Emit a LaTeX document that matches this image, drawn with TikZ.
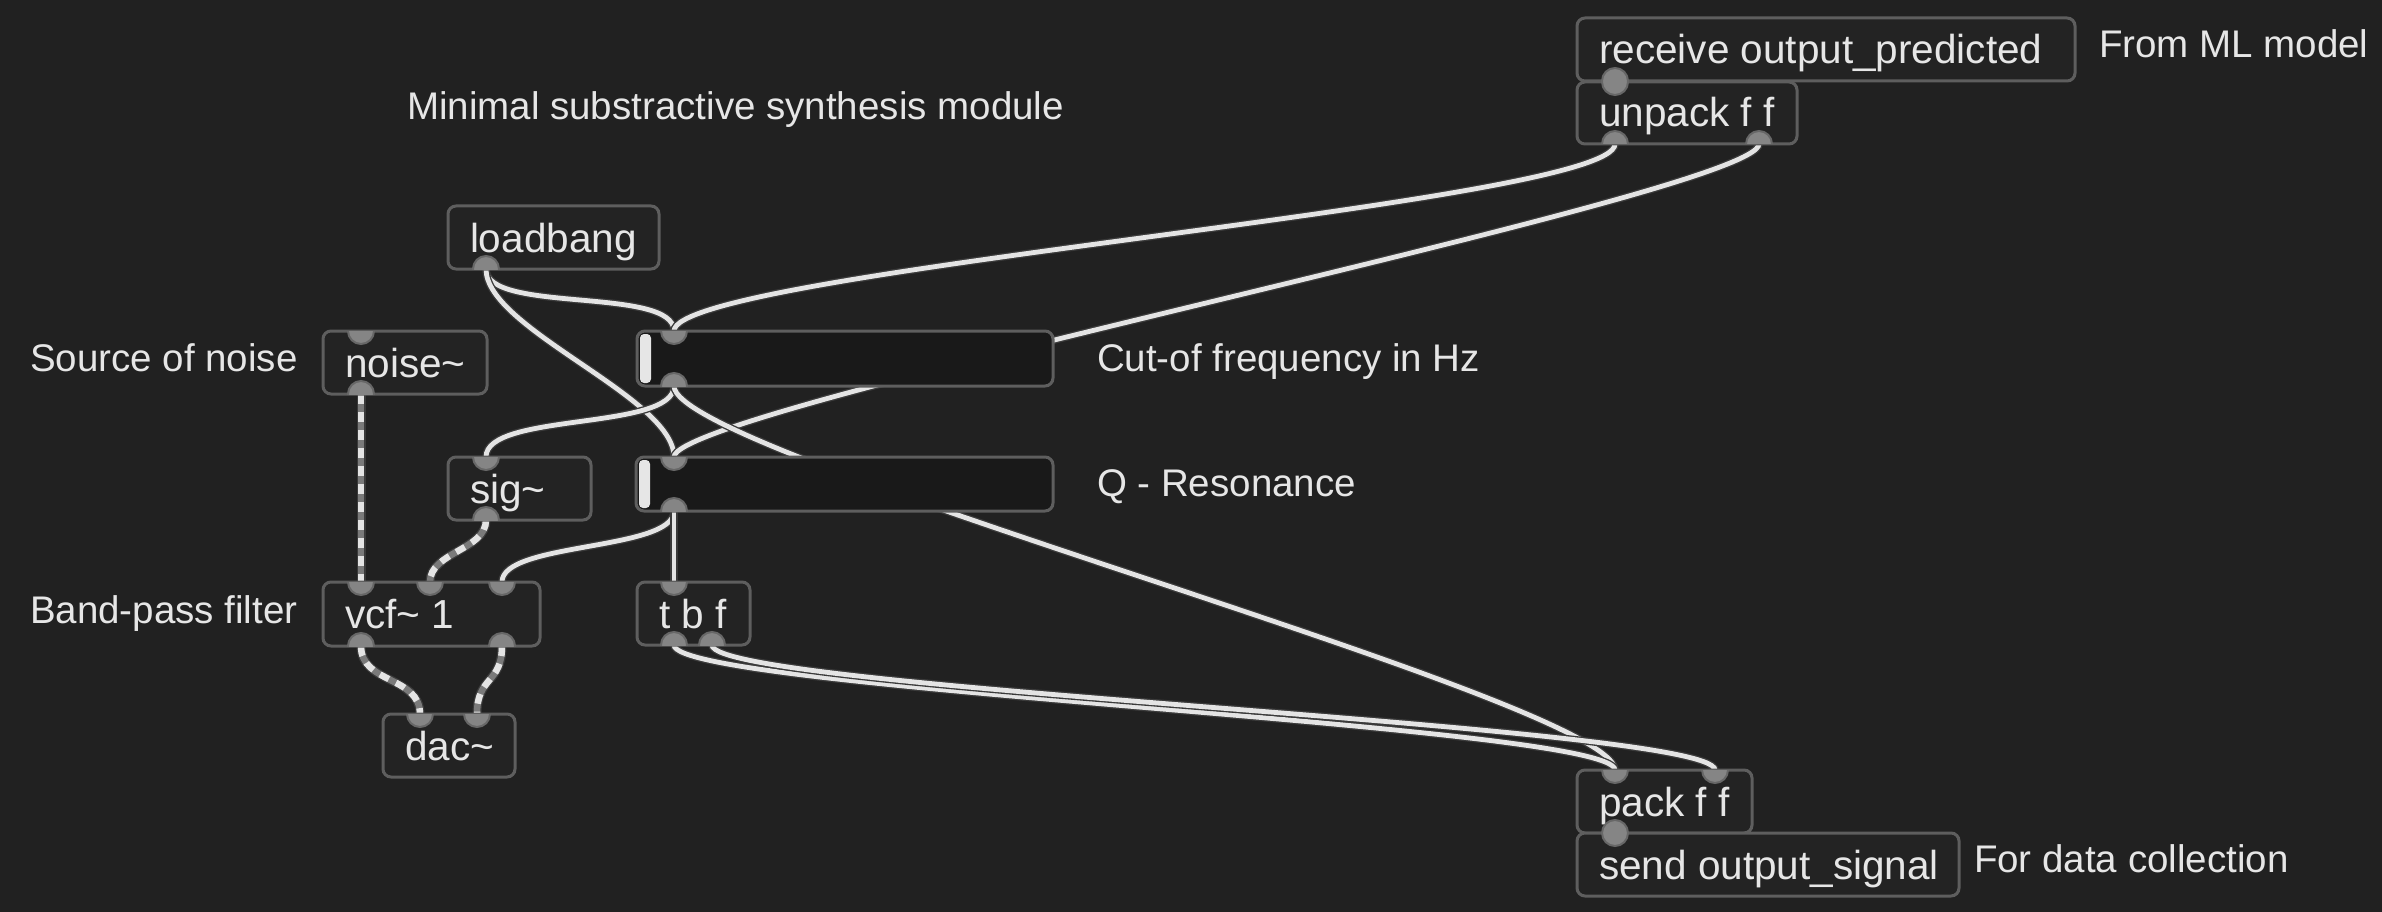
\documentclass[tikz,border=0pt]{standalone}
\usepackage{fontspec}
\setmainfont{Liberation Sans}
\usetikzlibrary{calc}
\definecolor{bg}{HTML}{212121}
\definecolor{boxfill}{HTML}{232323}
\definecolor{boxline}{HTML}{5E5E5E}
\definecolor{txt}{HTML}{E6E6E6}
\definecolor{sliderfill}{HTML}{191919}
\definecolor{portc}{HTML}{858585}
\definecolor{portline}{HTML}{676767}
\definecolor{wire}{HTML}{E4E4E4}
\definecolor{wireedge}{HTML}{3A3A3A}
\definecolor{sigdark}{HTML}{7A7A7A}
\newcommand{\pdfnt}{\fontsize{40.5}{44}\selectfont}
\newcommand{\cmfnt}{\fontsize{38.5}{44}\selectfont}
\begin{document}
\begin{tikzpicture}[x=1pt,y=-1pt,
  obj/.style={draw=boxline, fill=boxfill, line width=3pt, rounded corners=8pt, anchor=north west, inner sep=0pt, outer sep=0pt, minimum height=63pt},
  slider/.style={draw=boxline, fill=sliderfill, line width=3pt, rounded corners=8pt, anchor=north west, inner sep=0pt, outer sep=0pt},
  handle/.style={fill=txt, rounded corners=4pt, anchor=north west, inner sep=0pt, outer sep=0pt, minimum width=11pt},
  lbl/.style={anchor=base west, inner sep=0pt, outer sep=0pt, text=txt, font=\pdfnt},
  cmt/.style={anchor=base west, inner sep=0pt, outer sep=0pt, text=txt, font=\cmfnt},
  ctlwire/.style={draw=wireedge, line width=7.5pt, postaction={draw=wire, line width=4.8pt}},
  sigwire/.style={draw=wireedge, line width=9pt, postaction={draw=sigdark, line width=6.5pt}, postaction={draw=wire, line width=6.5pt, dash pattern=on 10pt off 8pt}},
  portst/.style={fill=portc, draw=portline, line width=2pt}
]
\useasboundingbox (0,0) rectangle (2382,912);
\fill[bg] (0,0) rectangle (2382,912);

% object positions
\path
  (448,206) coordinate (lbp) (323,331) coordinate (nzp) (448,457) coordinate (sgp)
  (323,582) coordinate (vcp) (383,714) coordinate (dap) (637,582) coordinate (tbp)
  (1577,18) coordinate (rcp) (1577,82) coordinate (upp) (1577,770) coordinate (pkp)
  (1577,833) coordinate (sdp) (637,331) coordinate (s1p) (636,457) coordinate (s2p);

% ports
\coordinate (lb-o0) at (486,269);
\coordinate (nz-i0) at (361,331);
\coordinate (nz-o0) at (361,394);
\coordinate (sg-i0) at (486,457);
\coordinate (sg-o0) at (486,520);
\coordinate (vc-i0) at (361,582);
\coordinate (vc-i1) at (430,582);
\coordinate (vc-i2) at (502,582);
\coordinate (vc-o0) at (361,646);
\coordinate (vc-o1) at (502,646);
\coordinate (da-i0) at (420,714);
\coordinate (da-i1) at (477,714);
\coordinate (tb-i0) at (674,582);
\coordinate (tb-o0) at (674,645);
\coordinate (tb-o1) at (712,645);
\coordinate (s1-i0) at (674,331);
\coordinate (s1-o0) at (674,386);
\coordinate (s2-i0) at (674,457);
\coordinate (s2-o0) at (674,511);
\coordinate (rc-o0) at (1615,81);
\coordinate (up-i0) at (1615,82);
\coordinate (up-o0) at (1615,144);
\coordinate (up-o1) at (1759,144);
\coordinate (pk-i0) at (1615,770);
\coordinate (pk-i1) at (1715,770);
\coordinate (pk-o0) at (1615,833);
\coordinate (sd-i0) at (1615,833);

% ---------- cables ----------
\path[sigwire] (nz-o0) -- (vc-i0);
\path[sigwire] (sg-o0) .. controls +(0,30) and +(0,-30) .. (vc-i1);
\path[sigwire] (vc-o0) .. controls +(0,38) and +(0,-38) .. (da-i0);
\path[sigwire] (vc-o1) .. controls +(0,38) and +(0,-38) .. (da-i1);

\path[ctlwire] (lb-o0) .. controls +(0,45) and +(0,-45) .. (s1-i0);
\path[ctlwire] (lb-o0) .. controls +(0,60) and +(0,-60) .. (s2-i0);
\path[ctlwire] (up-o0) .. controls +(0,60) and +(0,-60) .. (s1-i0);
\path[ctlwire] (up-o1) .. controls +(0,50) and +(0,-50) .. (s2-i0);
\path[ctlwire] (s1-o0) .. controls +(0,45) and +(0,-45) .. (sg-i0);
\path[ctlwire] (s1-o0) .. controls +(0,70) and +(0,-70) .. (pk-i0);
\path[ctlwire] (s2-o0) .. controls +(0,40) and +(0,-40) .. (vc-i2);
\path[ctlwire] (s2-o0) -- (tb-i0);
\path[ctlwire] (tb-o0) .. controls +(0,45) and +(0,-45) .. (pk-i0);
\path[ctlwire] (tb-o1) .. controls +(0,45) and +(0,-45) .. (pk-i1);

% ---------- objects ----------
\node[obj, minimum width=211pt] (lb) at (lbp) {};
\node[obj, minimum width=164pt] (nz) at (nzp) {};
\node[obj, minimum width=143pt] (sg) at (sgp) {};
\node[obj, minimum width=217pt, minimum height=64pt] (vc) at (vcp) {};
\node[obj, minimum width=132pt] (da) at (dap) {};
\node[obj, minimum width=113pt] (tb) at (tbp) {};
\node[obj, minimum width=498pt] (rc) at (rcp) {};
\node[obj, minimum width=220pt, minimum height=62pt] (up) at (upp) {};
\node[obj, minimum width=175pt] (pk) at (pkp) {};
\node[obj, minimum width=382pt] (sd) at (sdp) {};
\node[slider, minimum width=416pt, minimum height=55pt] (s1) at (s1p) {};
\node[slider, minimum width=417pt, minimum height=54pt] (s2) at (s2p) {};
\node[handle, minimum height=49pt] (s1h) at (640,334) {};
\node[handle, minimum height=48pt] (s2h) at (639,460) {};

% labels in boxes
\node[lbl] (lb-t) at ($(lb.north west)+(22,46)$) {loadbang};
\node[lbl] (nz-t) at ($(nz.north west)+(22,46)$) {noise\textasciitilde};
\node[lbl] (sg-t) at ($(sg.north west)+(22,46)$) {sig\textasciitilde};
\node[lbl] (vc-t) at ($(vc.north west)+(22,46)$) {vcf\textasciitilde{} 1};
\node[lbl] (da-t) at ($(da.north west)+(22,46)$) {dac\textasciitilde};
\node[lbl] (tb-t) at ($(tb.north west)+(22,46)$) {t b f};
\node[lbl] (rc-t) at ($(rc.north west)+(22,46)$) {receive output\_predicted};
\node[lbl] (up-t) at ($(up.north west)+(22,45)$) {unpack f f};
\node[lbl] (pk-t) at ($(pk.north west)+(22,46)$) {pack f f};
\node[lbl] (sd-t) at ($(sd.north west)+(22,46)$) {send output\_signal};

% ports
\foreach \b/\p in {lb/lb-o0, nz/nz-i0, nz/nz-o0, sg/sg-i0, sg/sg-o0, vc/vc-i0, vc/vc-i1, vc/vc-i2, vc/vc-o0, vc/vc-o1, da/da-i0, da/da-i1, tb/tb-i0, tb/tb-o0, tb/tb-o1, s1/s1-i0, s1/s1-o0, s2/s2-i0, s2/s2-o0, rc/rc-o0, up/up-i0, up/up-o0, up/up-o1, pk/pk-i0, pk/pk-i1, pk/pk-o0, sd/sd-i0}{
  \begin{scope}
    \clip (\b.north west) rectangle (\b.south east);
    \path[portst] (\p) circle[radius=13pt];
  \end{scope}
}

% comments
\node[cmt] (c-title) at (407,120) {Minimal substractive synthesis module};
\node[cmt] (c-noise) at (30,371) {Source of noise};
\node[cmt] (c-cut) at (1097,371) {Cut-of frequency in Hz};
\node[cmt] (c-q) at (1097,496) {Q - Resonance};
\node[cmt] (c-bp) at (30,623) {Band-pass filter};
\node[cmt] (c-ml) at (2099,58) {From ML model};
\node[cmt] (c-dc) at (1974,872) {For data collection};
\end{tikzpicture}
\end{document}
